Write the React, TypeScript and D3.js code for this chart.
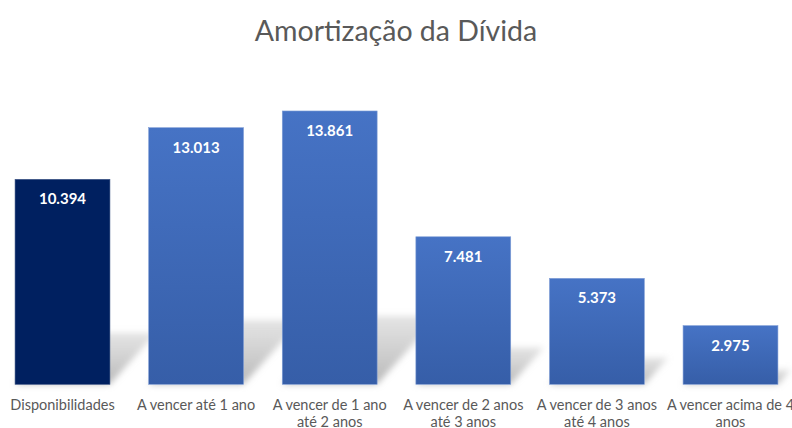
import React from "react";
import * as d3 from "d3";

const categories: string[][] = [
  ["Disponibilidades"],
  ["A vencer até 1 ano"],
  ["A vencer de 1 ano", "até 2 anos"],
  ["A vencer de 2 anos", "até 3 anos"],
  ["A vencer de 3 anos", "até 4 anos"],
  ["A vencer acima de 4", "anos"],
];
const values: number[] = [10.394, 13.013, 13.861, 7.481, 5.373, 2.975];
const valueLabels: string[] = ["10.394", "13.013", "13.861", "7.481", "5.373", "2.975"];
const title = "Amortização da Dívida";

const W = 792;
const H = 428;
const FONT = "Lato, 'Open Sans', sans-serif";

export default function App() {
  const x = d3
    .scaleBand<number>()
    .domain(values.map((_, i) => i))
    .range([-4.3, 797.3])
    .paddingInner(0.29)
    .paddingOuter(0.145);
  const y = d3.scaleLinear().domain([0, 16]).range([384.3, 68.8]);
  const base = y(0);
  const bw = x.bandwidth();

  return (
    <svg
      width={W}
      height={H}
      style={{ position: "absolute", left: 0, top: 0, background: "#fff" }}
    >
      <defs>
        <linearGradient id="barGrad" x1="0" y1="0" x2="0" y2="1">
          <stop offset="0" stopColor="#4673c5" />
          <stop offset="1" stopColor="#365ea8" />
        </linearGradient>
        <linearGradient id="shadowGrad" x1="0" y1="1" x2="0" y2="0">
          <stop offset="0" stopColor="#b0b0b0" stopOpacity={0.9} />
          <stop offset="1" stopColor="#c8c8c8" stopOpacity={0.5} />
        </linearGradient>
        <filter id="blur" x="-20%" y="-50%" width="140%" height="200%">
          <feGaussianBlur stdDeviation="3" />
        </filter>
      </defs>
      <text
        x={396}
        y={41}
        textAnchor="middle"
        fontFamily={FONT}
        fontSize={28.5}
        fill="#595959"
      >
        {title}
      </text>
      {/* shadows */}
      {values.map((v, i) => {
        const x0 = x(i)!;
        const x1 = x0 + bw;
        const h = (base - y(v)) * 0.25;
        const dx = h * 0.9;
        const path = d3.path();
        path.moveTo(x0, base);
        path.lineTo(x1, base);
        path.lineTo(x1 + dx, base - h);
        path.lineTo(x0 + dx, base - h);
        path.closePath();
        return (
          <path
            key={"s" + i}
            d={path.toString()}
            fill="url(#shadowGrad)"
            filter="url(#blur)"
          />
        );
      })}
      {/* bars */}
      {values.map((v, i) => (
        <rect
          key={"b" + i}
          x={x(i)!}
          y={y(v)}
          width={bw}
          height={base - y(v)}
          fill={i === 0 ? "#002060" : "url(#barGrad)"}
          stroke={i === 0 ? "#3a5384" : "#7f9dd6"}
          strokeWidth={0.6}
        />
      ))}
      {/* value labels */}
      {values.map((v, i) => (
        <text
          key={"v" + i}
          x={x(i)! + bw / 2}
          y={y(v) + 25}
          textAnchor="middle"
          fontFamily={FONT}
          fontWeight={700}
          fontSize={15}
          fill="#ffffff"
        >
          {valueLabels[i]}
        </text>
      ))}
      {/* category labels */}
      {categories.map((lines, i) => (
        <text
          key={"c" + i}
          textAnchor="middle"
          fontFamily={FONT}
          fontSize={14.5}
          fill="#595959"
        >
          {lines.map((ln, j) => (
            <tspan key={j} x={x(i)! + bw / 2} y={410 + j * 16.5}>
              {ln}
            </tspan>
          ))}
        </text>
      ))}
    </svg>
  );
}
